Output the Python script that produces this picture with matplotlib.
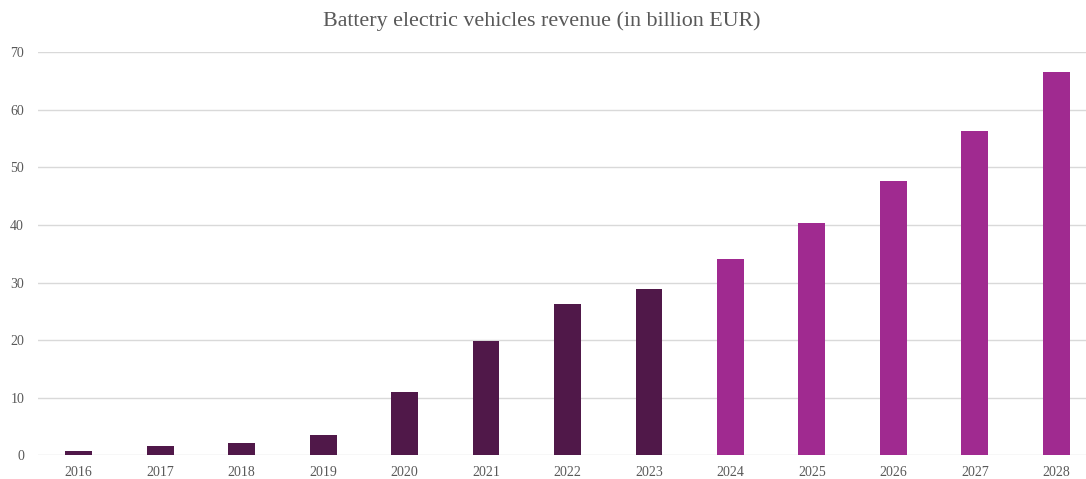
import matplotlib
matplotlib.use("Agg")
import matplotlib.pyplot as plt

years = ["2016", "2017", "2018", "2019", "2020", "2021", "2022",
         "2023", "2024", "2025", "2026", "2027", "2028"]
revenue = [0.8, 1.56, 2.2, 3.58, 10.94, 19.9, 26.2, 28.9,
           34.1, 40.35, 47.6, 56.3, 66.5]
last_actual_year = "2023"
y_ticks = [0, 10, 20, 30, 40, 50, 60, 70]

actual_color = "#501849"
forecast_color = "#A02A90"
text_color = "#595959"

plt.rcParams["font.family"] = ["Liberation Serif", "DejaVu Serif"]

W, H = 1086, 479
fig = plt.figure(figsize=(W / 100, H / 100), dpi=100)
fig.patch.set_facecolor("white")

# axes span from x=38px; category spacing puts the right edge past the figure
left_px, right_px = 38, 1097
bottom_px, top_px = 455.3, 52.3
ax = fig.add_axes([left_px / W, 1 - bottom_px / H,
                   (right_px - left_px) / W, (bottom_px - top_px) / H])

cut = years.index(last_actual_year)
colors = [actual_color if i <= cut else forecast_color for i in range(len(years))]
x = list(range(len(years)))
ax.bar(x, revenue, width=0.33, color=colors, zorder=3)

ax.set_xlim(-0.5, len(years) - 0.5)
ax.set_ylim(0, 70)
ax.set_yticks(y_ticks)
ax.set_xticks(x)
ax.set_xticklabels(years)
ax.grid(axis="y", color="#D9D9D9", linewidth=1.0, zorder=0)
for s in ax.spines.values():
    s.set_visible(False)
ax.tick_params(axis="both", length=0, labelsize=10, colors=text_color)
ax.tick_params(axis="x", pad=8)
ax.tick_params(axis="y", pad=10)

fig.text(542 / W, 1 - 21 / H, "Battery electric vehicles revenue (in billion EUR)",
         ha="center", va="center", fontsize=15.8, color=text_color)

fig.savefig("out.png", dpi=100, facecolor="white")
